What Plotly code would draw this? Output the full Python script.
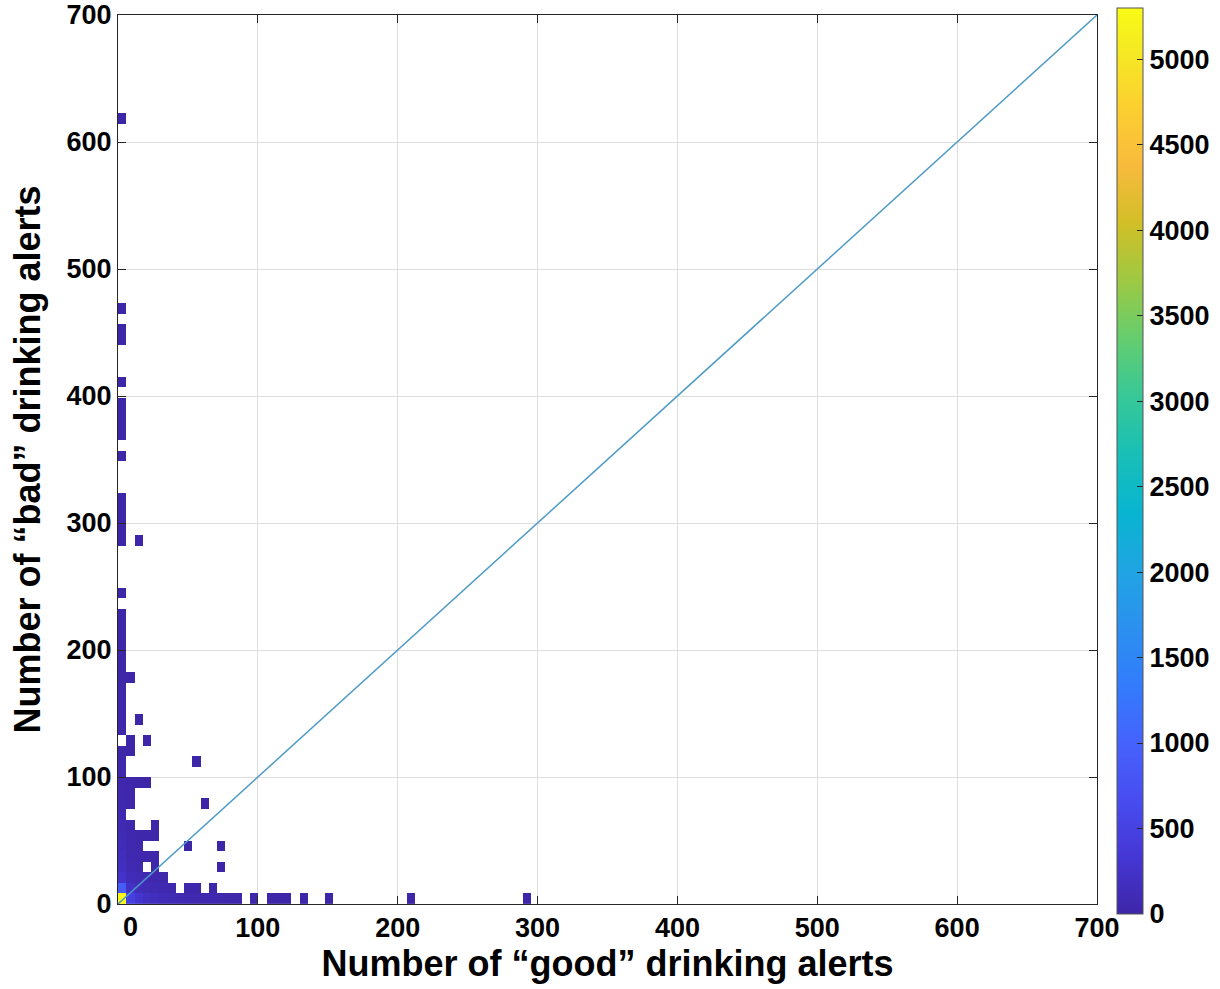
import plotly.graph_objects as go

# ---------------- data ----------------
X_BIN = 5.9          # width of a "good" alerts bin
Y_BIN = 8.3          # height of a "bad" alerts bin
N_XBINS = 50
N_YBINS = 76

# occupied cells: x-bin index, y-bin index, count
cell_xbin = [0, 1, 2, 3, 4, 5, 6, 7, 8, 9, 10, 11, 12, 13, 14, 16, 18, 19, 20, 22, 25, 35, 49,
             0, 1, 2, 3, 4, 5, 6, 8, 9, 11,
             0, 1, 2, 3, 4, 5,
             0, 1, 2, 4, 12,
             0, 1, 2, 3, 4,
             0, 1, 2, 8, 12,
             0, 1, 2, 3, 4,
             0, 1, 4,
             0,
             0, 1, 10,
             0, 1,
             0, 1, 2, 3,
             0,
             0, 9,
             0, 1,
             1, 3,
             0,
             0, 2,
             0, 0, 0,
             0, 1,
             0, 0, 0, 0, 0, 0,
             0,
             0, 2,
             0, 0, 0, 0,
             0,
             0, 0, 0, 0,
             0,
             0, 0,
             0,
             0]
cell_ybin = [0] * 23 + \
            [1] * 10 + \
            [2] * 6 + \
            [3] * 5 + \
            [4] * 5 + \
            [5] * 5 + \
            [6] * 5 + \
            [7] * 3 + \
            [8] + \
            [9] * 3 + \
            [10] * 2 + \
            [11] * 4 + \
            [12] + \
            [13] * 2 + \
            [14] * 2 + \
            [15] * 2 + \
            [16] + \
            [17] * 2 + \
            [18, 19, 20] + \
            [21] * 2 + \
            [22, 23, 24, 25, 26, 27] + \
            [29] + \
            [34] * 2 + \
            [35, 36, 37, 38] + \
            [42] + \
            [44, 45, 46, 47] + \
            [49] + \
            [53, 54] + \
            [56] + \
            [74]
cell_count = [5240, 480, 300, 190, 150, 110, 90, 70, 60, 50, 40, 35, 30, 25, 20, 12, 8, 6, 6, 4, 3, 2, 2,
              900, 210, 140, 100, 80, 60, 40, 25, 20, 12,
              260, 120, 90, 60, 40, 25,
              180, 80, 50, 25, 6,
              150, 60, 40, 25, 15,
              120, 50, 30, 6, 4,
              100, 40, 25, 15, 10,
              80, 30, 10,
              60,
              50, 20, 4,
              45, 15,
              40, 15, 8, 5,
              30,
              25, 3,
              22, 8,
              6, 3,
              18,
              15, 3,
              14, 12, 10,
              9, 3,
              8, 8, 7, 6, 6, 5,
              3,
              4, 2,
              3, 3, 3, 3,
              2,
              2, 2, 2, 2,
              2,
              2, 2,
              2,
              2]

diag_x = [0, 700]
diag_y = [0, 700]

x_ticks = [0, 100, 200, 300, 400, 500, 600, 700]
y_ticks = [0, 100, 200, 300, 400, 500, 600, 700]
cbar_ticks = [0, 500, 1000, 1500, 2000, 2500, 3000, 3500, 4000, 4500, 5000]
CMAX = 5300

# ---------------- parula colormap ----------------
parula_rgb = [
    (0.2422, 0.1504, 0.6603), (0.2706, 0.2147, 0.8364), (0.2813, 0.3006, 0.9414),
    (0.2699, 0.3892, 0.9906), (0.1963, 0.4847, 0.9892), (0.1687, 0.5703, 0.9359),
    (0.1248, 0.6459, 0.8883), (0.0297, 0.7082, 0.8163), (0.0964, 0.7500, 0.7120),
    (0.2161, 0.7843, 0.5923), (0.3909, 0.8029, 0.4354), (0.6174, 0.7876, 0.2612),
    (0.8203, 0.7498, 0.1535), (0.9728, 0.7298, 0.2394), (0.9892, 0.8136, 0.1885),
    (0.9597, 0.9135, 0.1423), (0.9769, 0.9839, 0.0805)]
idx = [0, 4, 8, 12, 16, 20, 24, 28, 32, 36, 40, 44, 48, 52, 56, 60, 63]
parula = [[i / 63, "rgb(%d,%d,%d)" % tuple(round(c * 255) for c in rgb)]
          for i, rgb in zip(idx, parula_rgb)]

# build the grid of bin counts (empty bins left blank)
z = [[None] * N_XBINS for _ in range(N_YBINS)]
for xi, yi, c in zip(cell_xbin, cell_ybin, cell_count):
    z[yi][xi] = c

FONT = "Arial, Liberation Sans, sans-serif"

fig = go.Figure()
fig.add_trace(go.Heatmap(
    z=z, x0=X_BIN / 2, dx=X_BIN, y0=Y_BIN / 2, dy=Y_BIN,
    colorscale=parula, zmin=0, zmax=CMAX, hoverongaps=False,
    colorbar=dict(
        tickvals=cbar_ticks, ticks="inside", ticklen=6, tickcolor="#262626",
        tickfont=dict(family=FONT, size=27, color="black", weight="bold"),
        thickness=26, thicknessmode="pixels",
        len=906, lenmode="pixels",
        x=1.0204, xanchor="left", xref="paper",
        y=1.0079, yanchor="top",
        outlinecolor="#555555", outlinewidth=1, ypad=0, xpad=0,
    ),
))
fig.add_trace(go.Scatter(
    x=diag_x, y=diag_y, mode="lines",
    line=dict(color="#4d9bc6", width=1.5), showlegend=False,
))

axis_common = dict(
    showgrid=True, gridcolor="#dedede", gridwidth=1,
    showline=True, linecolor="#262626", linewidth=1, mirror="ticks",
    ticks="inside", ticklen=8, tickcolor="#262626",
    tickfont=dict(family=FONT, size=27, color="black", weight="bold"),
    zeroline=False, ticklabeloverflow="allow",
)

fig.update_layout(
    width=1220, height=989,
    margin=dict(l=118, r=123, t=15, b=85, autoexpand=False),
    plot_bgcolor="white", paper_bgcolor="white",
    showlegend=False,
    xaxis=dict(range=[0, 700], tickvals=x_ticks,
               ticktext=[""] + [str(v) for v in x_ticks[1:]],
               title=dict(text="Number of “good” drinking alerts", standoff=8,
                          font=dict(family=FONT, size=36, color="black", weight="bold")),
               **axis_common),
    yaxis=dict(range=[0, 700], tickvals=y_ticks,
               title=dict(text="Number of “bad” drinking alerts", standoff=14,
                          font=dict(family=FONT, size=36, color="black", weight="bold")),
               **axis_common),
    annotations=[dict(text="0", x=8.6, xref="x", y=0, yref="paper",
                      yanchor="top", xanchor="center", yshift=-6, showarrow=False,
                      font=dict(family=FONT, size=27, color="black", weight="bold"))],
)

# remove the page's default body margin so the figure fills the window exactly
fig.write_html(
    "out.html",
    config={"displayModeBar": False},
    post_script="document.body.style.margin='0';document.body.style.overflow='hidden';",
)
